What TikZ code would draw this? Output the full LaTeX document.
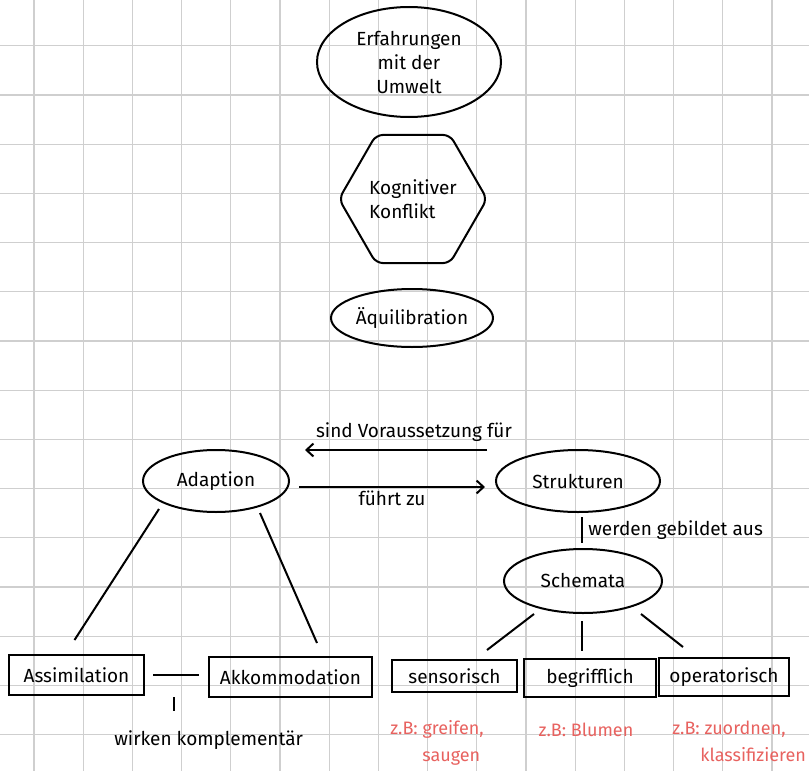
\documentclass[tikz,border=0pt]{standalone}
\usepackage{fontspec}
\setmainfont{Fira Sans}
\usetikzlibrary{arrows.meta,shapes.geometric,positioning}
\definecolor{gridColor}{HTML}{CFCFCF}
\definecolor{noteColor}{HTML}{E8625F}
\tikzset{ellipse state/.style={draw, ellipse, inner sep=0pt}}
\tikzset{box state/.style={draw, rectangle, inner sep=0pt}}
\tikzset{hex state/.style={draw, regular polygon, regular polygon sides=6,
		minimum size=148pt, inner sep=0pt, rounded corners=7pt}}
\tikzset{note/.style={text=noteColor, align=left,
		font=\fontsize{18}{27}\selectfont}}
\begin{document}
\begin{tikzpicture}[x=1pt, y=-1pt, line width=2pt,
			font=\fontsize{19}{24}\selectfont,
			>={Straight Barb[length=7pt,width=13pt]}]
			\fill[white] (0,0) rectangle (809,771);
			\useasboundingbox (0,0) rectangle (809,771);
			% grid paper
			\foreach \gx in {0,...,15}
				\draw[gridColor, line width=1.2pt] ({34+49.2*\gx},0) -- ({34+49.2*\gx},771);
			\foreach \gy in {0,...,14}
				\draw[gridColor, line width=1.2pt] (0,{45.7+49.2*\gy}) -- (809,{45.7+49.2*\gy});
			\node[ellipse state, minimum width=184pt, minimum height=110pt, align=center] at (409,62) (erfahrung) {Erfahrungen\\mit der\\Umwelt};
			\node[hex state, align=left] at (413,199) (konflikt) {Kognitiver\\Konflikt};
			\node[ellipse state, minimum width=162pt, minimum height=58pt] at (412,318) (aequi) {Äquilibration};
			\node[ellipse state, minimum width=146pt, minimum height=62pt] at (216,481) (adaption) {Adaption};
			\node[ellipse state, minimum width=164pt, minimum height=62pt] at (578,481) (strukturen) {Strukturen};
			\node[ellipse state, minimum width=158pt, minimum height=64pt] at (583,581) (schemata) {Schemata};
			\node[box state, minimum width=135pt, minimum height=40pt] at (76.5,675) (assim) {Assimilation};
			\node[box state, minimum width=163pt, minimum height=40pt] at (290.5,677) (akkom) {Akkommodation};
			\node[box state, minimum width=125pt, minimum height=32pt] at (454.5,676) (sensor) {sensorisch};
			\node[box state, minimum width=132pt, minimum height=38pt] at (590,678) (begriff) {begrifflich};
			\node[box state, minimum width=130pt, minimum height=38pt] at (724,677) (operat) {operatorisch};
			\node[anchor=west] at (110,740) (wirken) {wirken komplementär};
			\node[note, anchor=west] at (386,743) (n_sensor) {z.B: greifen,\\\hspace*{32pt}saugen};
			\node[note] at (586,730) (n_begriff) {z.B: Blumen};
			\node[note, anchor=west] at (668,741) (n_operat) {z.B: zuordnen,\\\hspace*{28pt}klassifizieren};
			\path ([shift={(-8pt,31pt)}]strukturen.west) edge[->] node[above=4pt, xshift=18pt] {sind Voraussetzung für} ([shift={(15pt,31pt)}]adaption.east);
			\path ([shift={(9pt,-6pt)}]adaption.east) edge[->] node[below=0pt] {führt zu} ([shift={(-10pt,-6pt)}]strukturen.west);
			\path ([shift={(4pt,-36pt)}]strukturen.center) edge node[right=2pt] {werden gebildet aus} ([shift={(-1pt,38pt)}]schemata.center);
			\path ([shift={(-49pt,-33pt)}]schemata.center) edge ([shift={(32.5pt,9pt)}]sensor.north);
			\path ([shift={(-1pt,-40pt)}]schemata.center) edge ([shift={(-8pt,7pt)}]begriff.north);
			\path ([shift={(58pt,-33pt)}]schemata.center) edge ([shift={(-41pt,10pt)}]operat.north);
			\path ([shift={(-57pt,-28pt)}]adaption.center) edge ([shift={(-2pt,14pt)}]assim.north);
			\path ([shift={(44pt,-32pt)}]adaption.center) edge ([shift={(26.5pt,13pt)}]akkom.north);
			\draw ([xshift=8pt]assim.east) -- coordinate (k_mid) ([shift={(-9pt,2pt)}]akkom.west);
			% wirken komplementaer
			\draw ([shift={(-2pt,-22pt)}]k_mid) -- ([shift={(-2pt,-36pt)}]k_mid);
			\end{tikzpicture}
\end{document}
